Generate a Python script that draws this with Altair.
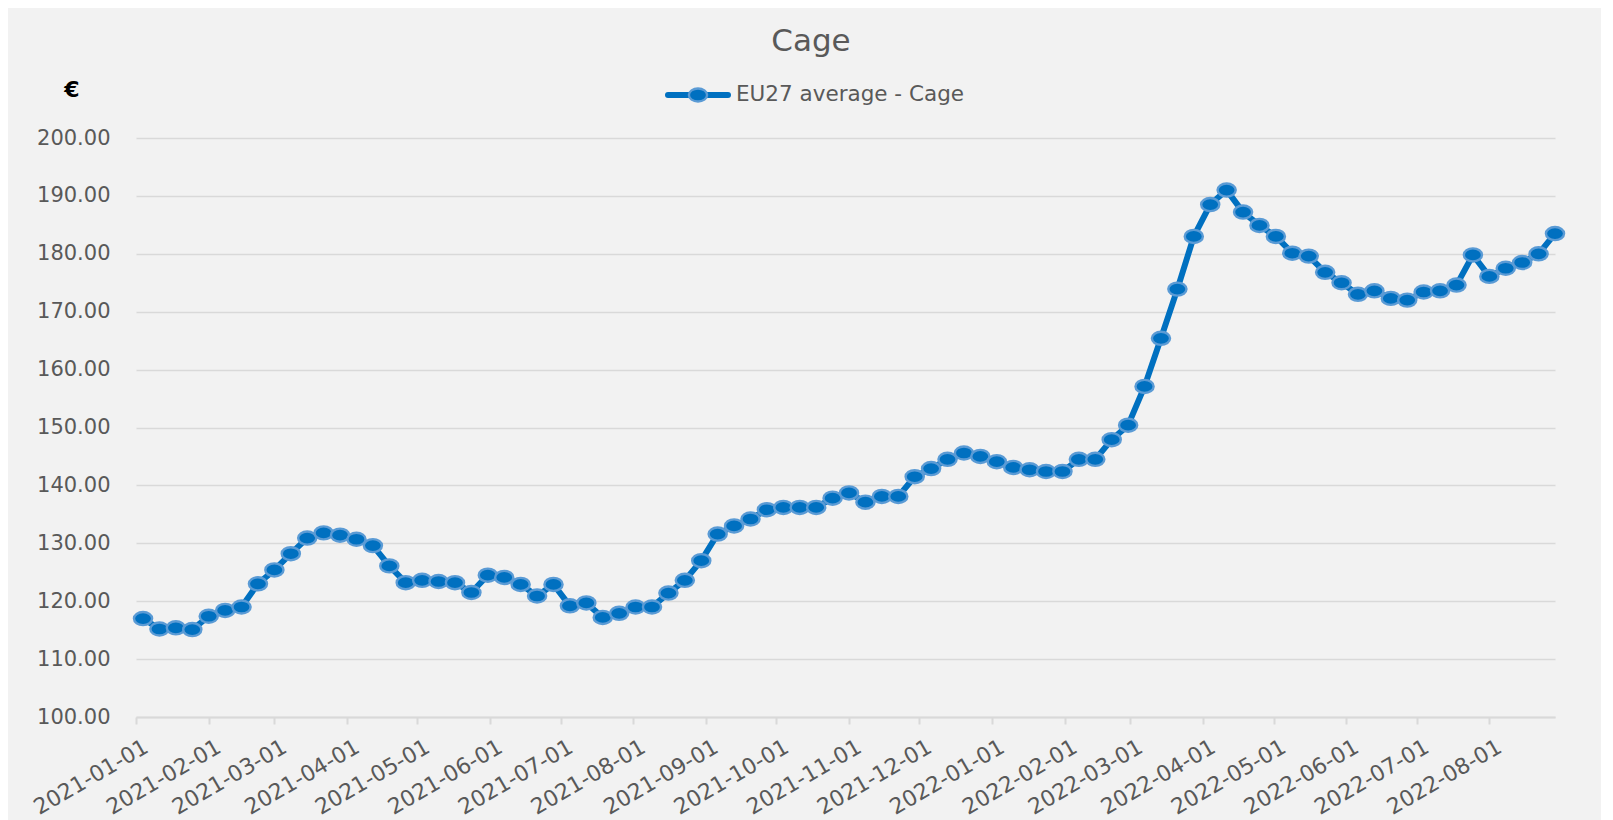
import altair as alt
import pandas as pd

# ---- data ----
start_date = "2021-01-04"          # first weekly observation (Mondays)
n_weeks = 87
prices = [
    117.0, 115.2, 115.4, 115.1, 117.4, 118.4, 119.0, 123.0, 125.4, 128.2,
    130.9, 131.8, 131.4, 130.7, 129.6, 126.1, 123.2, 123.6, 123.4, 123.2,
    121.5, 124.5, 124.1, 122.9, 120.9, 122.9, 119.2, 119.7, 117.2, 117.9,
    119.0, 119.0, 121.4, 123.6, 127.0, 131.6, 133.0, 134.2, 135.8, 136.2,
    136.2, 136.2, 137.8, 138.7, 137.1, 138.1, 138.1, 141.5, 142.9, 144.5,
    145.6, 145.0, 144.1, 143.1, 142.7, 142.4, 142.4, 144.5, 144.5, 147.9,
    150.4, 157.1, 165.4, 173.9, 183.0, 188.5, 191.0, 187.2, 184.9, 183.0,
    180.1, 179.6, 176.8, 175.0, 173.0, 173.6, 172.3, 172.0, 173.4, 173.6,
    174.6, 179.8, 176.1, 177.5, 178.5, 180.0, 183.5,
]
dates = pd.date_range(start_date, periods=n_weeks, freq="7D").strftime("%Y-%m-%d").tolist()

title_text = ["Cage"]
series_label = ["EU27 average - Cage"]
unit_label = ["€"]
y_ticks = [100, 110, 120, 130, 140, 150, 160, 170, 180, 190, 200]
x_tick_months = [(2021, m) for m in range(1, 13)] + [(2022, m) for m in range(1, 9)]

df = pd.DataFrame({"date": dates, "price": prices})

FONT = "DejaVu Sans"
GREY_TXT = "#595959"
BLUE = "#0070c0"
LIGHT_BLUE = "#5b9bd5"
ELLIPSE = "M-1,0A1,0.72,0,1,1,1,0A1,0.72,0,1,1,-1,0Z"
PT_SIZE = 330
LINE_W = 6

x_enc = alt.X(
    "date:T",
    scale=alt.Scale(
        type="utc",
        domain=[alt.DateTime(year=2021, month=1, date=1, utc=True),
                alt.DateTime(year=2022, month=8, date=29, utc=True)],
        nice=False,
    ),
    axis=alt.Axis(
        title=None,
        values=[alt.DateTime(year=y, month=m, date=1, utc=True) for y, m in x_tick_months],
        labelExpr="utcFormat(datum.value, '%Y-%m-%d')",
        labelAngle=-30,
        labelAlign="right",
        labelBaseline="top",
        labelPadding=12,
        labelOffset=5,
        labelFont=FONT,
        labelFontSize=22,
        labelColor=GREY_TXT,
        labelOverlap=False,
        labelFlush=False,
        grid=False,
        domainColor="#d9d9d9",
        domainWidth=2,
        tickColor="#d9d9d9",
        tickWidth=2,
        tickSize=7,
    ),
)
y_enc = alt.Y(
    "price:Q",
    scale=alt.Scale(domain=[100, 200], nice=False, zero=False),
    axis=alt.Axis(
        title=None,
        values=y_ticks,
        format=".2f",
        labelFont=FONT,
        labelFontSize=21,
        labelColor=GREY_TXT,
        labelPadding=26,
        ticks=False,
        domain=False,
        grid=True,
        gridColor="#d9d9d9",
        gridWidth=1.5,
    ),
)

base = alt.Chart(df)
line = base.mark_line(color=BLUE, strokeWidth=LINE_W, strokeJoin="round").encode(x=x_enc, y=y_enc)
points = base.mark_point(
    shape=ELLIPSE, size=PT_SIZE, filled=True, fill=BLUE, stroke=LIGHT_BLUE,
    strokeWidth=2.4, opacity=1, fillOpacity=1, strokeOpacity=1,
).encode(x="date:T", y="price:Q")

leg_df = pd.DataFrame({"label": series_label})
leg_rule = alt.Chart(leg_df).mark_rule(color=BLUE, strokeWidth=LINE_W, strokeCap="round").encode(
    x=alt.value(532), x2=alt.value(592), y=alt.value(-43)
)
leg_pt = alt.Chart(leg_df).mark_point(
    shape=ELLIPSE, size=PT_SIZE, filled=True, fill=BLUE, stroke=LIGHT_BLUE,
    strokeWidth=2.4, opacity=1,
).encode(x=alt.value(562), y=alt.value(-43))
leg_txt = alt.Chart(leg_df).mark_text(
    align="left", baseline="middle", font=FONT, fontSize=21.5, color=GREY_TXT
).encode(x=alt.value(600), y=alt.value(-43), text="label:N")

unit = alt.Chart(pd.DataFrame({"u": unit_label})).mark_text(
    align="center", baseline="middle", font=FONT, fontSize=22, fontWeight="bold", color="#000000"
).encode(x=alt.value(-64), y=alt.value(-48), text="u:N")

title = alt.Chart(pd.DataFrame({"t": title_text})).mark_text(
    align="center", baseline="middle", font=FONT, fontSize=31, color=GREY_TXT
).encode(x=alt.value(675), y=alt.value(-96), text="t:N")

chart = alt.layer(line, points, leg_rule, leg_pt, leg_txt, unit, title).properties(
    width=1419,
    height=579,
    padding={"left": 128, "top": 130, "right": 46, "bottom": 103},
    autosize=alt.AutoSizeParams(type="none"),
    background="#f2f2f2",
).configure_view(stroke=None)

chart.save("out.html", embed_options={"renderer": "svg", "actions": False})
